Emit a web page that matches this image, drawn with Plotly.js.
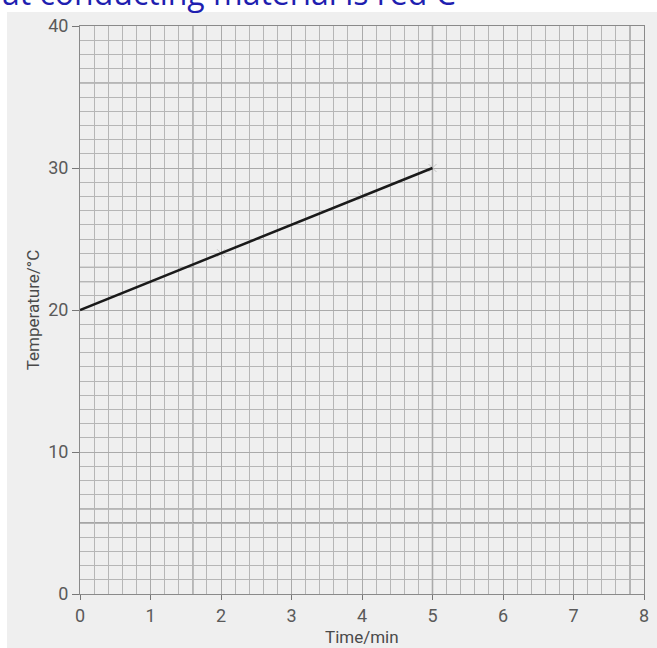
<!DOCTYPE html>
<html>
<head>
<meta charset="utf-8">
<script src="https://cdn.plot.ly/plotly-3.0.1.min.js"></script>
<style>
  html, body { margin: 0; padding: 0; background: #ffffff; }
  #chart { width: 657px; height: 648px; }
</style>
</head>
<body>
<div id="chart"></div>
<script>
// Data
const timeMin = [0, 5];
const temperatureC = [20, 30];
const markTime = [2, 4, 5];
const markTemp = [24, 28, 30];
const xTickVals = [0, 1, 2, 3, 4, 5, 6, 7, 8];
const yTickVals = [0, 10, 20, 30, 40];
const headerText = "at conducting material is red C";
const xTitle = "Time/min";
const yTitle = "Temperature/°C";

// Darker ruling lines seen on the scanned graph paper (styling only)
const darkV = [1.6, 5, 7.8];
const darkH = [5, 6, 22, 23, 36];

const shapes = [
  { type: 'rect', xref: 'paper', yref: 'paper', layer: 'below',
    x0: (7 - 80) / 564, x1: (657 - 80) / 564, y0: -1, y1: 1 + (26 - 12) / 568,
    fillcolor: '#efefef', line: { width: 0 } }
];
darkV.forEach(v => shapes.push({ type: 'line', xref: 'x', yref: 'paper', layer: 'below',
  x0: v, x1: v, y0: 0, y1: 1, line: { color: '#8c8c8c', width: 1.4 } }));
darkH.forEach(v => shapes.push({ type: 'line', xref: 'paper', yref: 'y', layer: 'below',
  x0: 0, x1: 1, y0: v, y1: v, line: { color: '#8c8c8c', width: 1.4 } }));

const traces = [
  { x: markTime, y: markTemp, type: 'scatter', mode: 'markers',
    marker: { symbol: 'x-thin-open', size: 8, color: '#c4c4c4', line: { color: '#c4c4c4', width: 1 } },
    hoverinfo: 'skip', showlegend: false },
  { x: timeMin, y: temperatureC, type: 'scatter', mode: 'lines',
    line: { color: '#1a1a1a', width: 2.5 }, showlegend: false }
];

const tickFont = { family: 'Roboto, sans-serif', size: 18, color: '#5a5a5a' };
const titleFont = { family: 'Roboto, sans-serif', size: 17, color: '#4a4a4a' };

const layout = {
  width: 657, height: 648,
  margin: { l: 80, r: 13, t: 26, b: 54 },
  paper_bgcolor: '#ffffff',
  plot_bgcolor: '#ededed',
  showlegend: false,
  shapes: shapes,
  annotations: [{
    text: headerText, xref: 'paper', yref: 'paper',
    x: -80 / 564, y: 1 + (26 - 16) / 568, xanchor: 'left', yanchor: 'bottom',
    showarrow: false,
    font: { family: 'Open Sans, sans-serif', size: 32, color: '#1f1fb0' }
  }, {
    text: xTitle, xref: 'paper', yref: 'paper',
    x: 0.5, y: -54 / 568, xanchor: 'center', yanchor: 'bottom', borderpad: 0,
    showarrow: false, font: titleFont
  }],
  xaxis: {
    range: [0, 8], tickvals: xTickVals, ticks: 'outside', ticklen: 5, tickcolor: '#777777',
    showgrid: true, gridcolor: '#aaaaaa', gridwidth: 1,
    minor: { dtick: 0.2, showgrid: true, gridcolor: '#b6b6b6', gridwidth: 1, ticks: '' },
    showline: true, linecolor: '#8a8a8a', linewidth: 1, mirror: true,
    zeroline: false, tickfont: tickFont
  },
  yaxis: {
    range: [0, 40], tickvals: yTickVals, ticks: 'outside', ticklen: 7, tickcolor: '#777777',
    showgrid: true, gridcolor: '#aaaaaa', gridwidth: 1,
    minor: { dtick: 1, showgrid: true, gridcolor: '#b6b6b6', gridwidth: 1, ticks: '' },
    showline: true, linecolor: '#8a8a8a', linewidth: 1, mirror: true,
    zeroline: false, tickfont: tickFont,
    title: { text: yTitle, standoff: 4, font: titleFont }
  }
};

Plotly.newPlot('chart', traces, layout, { displayModeBar: false, staticPlot: true });
</script>
</body>
</html>
